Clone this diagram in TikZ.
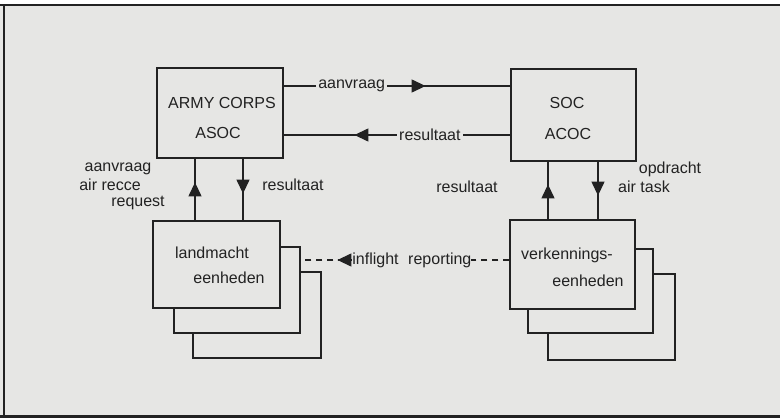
\documentclass[tikz,border=0pt]{standalone}
\usepackage{fontspec}
\setmainfont{Liberation Sans}
\usetikzlibrary{arrows.meta,decorations.markings}
\definecolor{bg}{HTML}{E6E6E4}
\definecolor{ink}{HTML}{222222}
\tikzset{
  box/.style={draw=ink, line width=1.2pt, fill=bg, inner sep=0pt},
  conn/.style={draw=ink, line width=1.2pt},
  arrowat/.style={postaction={decorate}, decoration={markings,
     mark=at position #1 with {\pgfsetdash{}{0pt}\arrow{Triangle[length=14pt,width=13pt]}}}},
  lab/.style={text=ink, inner sep=0pt, font=\fontsize{16}{18}\selectfont},
  gaplab/.style={lab, fill=bg, inner xsep=2pt, inner ysep=3pt},
}
\begin{document}
\begin{tikzpicture}[x=1pt,y=-1pt]
\useasboundingbox (0,0) rectangle (780,420);
\fill[white] (0,0) rectangle (780,420);
\fill[bg] (0,5) rectangle (780,416);
\draw[ink, line width=2.5pt] (0,5) -- (780,5);
\draw[ink, line width=2pt] (4,5) -- (4,416);
\draw[ink, line width=3pt] (0,416) -- (780,416);

% boxes
\node[box, minimum width=126pt, minimum height=90pt] (army) at (220,113) {};
\node[box, minimum width=125pt, minimum height=92pt] (soc) at (573.5,115) {};
\node[box, minimum width=128pt, minimum height=86pt] (land3) at (257,315) {};
\node[box, minimum width=126pt, minimum height=86pt] (land2) at (237,290) {};
\node[box, minimum width=127pt, minimum height=87pt] (land1) at (216.5,264.5) {};
\node[box, minimum width=127pt, minimum height=86pt] (verk3) at (611.5,317) {};
\node[box, minimum width=125pt, minimum height=84pt] (verk2) at (590.5,291) {};
\node[box, minimum width=125pt, minimum height=89pt] (verk1) at (572.5,264.5) {};

% box texts
\node[lab] (t1) at (222,103) {ARMY CORPS};
\node[lab] (t2) at (218,133) {ASOC};
\node[lab] (t3) at (567,103) {SOC};
\node[lab] (t4) at (568,134) {ACOC};
\node[lab] (t5) at (212,253) {landmacht};
\node[lab] (t6) at (229,278) {eenheden};
\node[lab] (t7) at (567,255) {verkennings-};
\node[lab] (t8) at (588,281) {eenheden};

% helper coordinates
\coordinate (ya) at (0,86);
\coordinate (yr) at (0,135);
\coordinate (yi) at (0,260);
\coordinate (xa) at (195,0);
\coordinate (xb) at (243,0);
\coordinate (xc) at (548,0);
\coordinate (xd) at (598,0);

% horizontal connectors
\draw[conn, arrowat=142pt] (army.east |- ya) -- node[gaplab, pos=0.3] (l1) {aanvraag} (soc.west |- ya);
\draw[conn, arrowat=156pt] (soc.west |- yr) -- node[gaplab, pos=0.355] (l2) {resultaat} (army.east |- yr);
\draw[conn, dashed, dash pattern=on 6pt off 5pt, arrowat=172pt] (verk1.west |- yi) -- node[gaplab, inner xsep=0pt, pos=0.467] (l3) {inflight\hspace{0.6em}reporting} (land2.east |- yi);

% vertical connectors
\draw[conn, arrowat=38pt] (land1.north -| xa) -- (army.south -| xa);
\draw[conn, arrowat=35pt] (army.south -| xb) -- (land1.north -| xb);
\draw[conn, arrowat=35pt] (verk1.north -| xc) -- (soc.south -| xc);
\draw[conn, arrowat=34pt] (soc.south -| xd) -- (verk1.north -| xd);

% side labels
\node[lab] (l4) at (118,169) {aanvraag};
\node[lab] (l5) at (110,185) {air recce};
\node[lab] (l6) at (138,203) {request};
\node[lab] (l7) at (293,185) {resultaat};
\node[lab] (l8) at (467,187) {resultaat};
\node[lab] (l9) at (670,169) {opdracht};
\node[lab] (l10) at (644,187) {air task};
\end{tikzpicture}
\end{document}
